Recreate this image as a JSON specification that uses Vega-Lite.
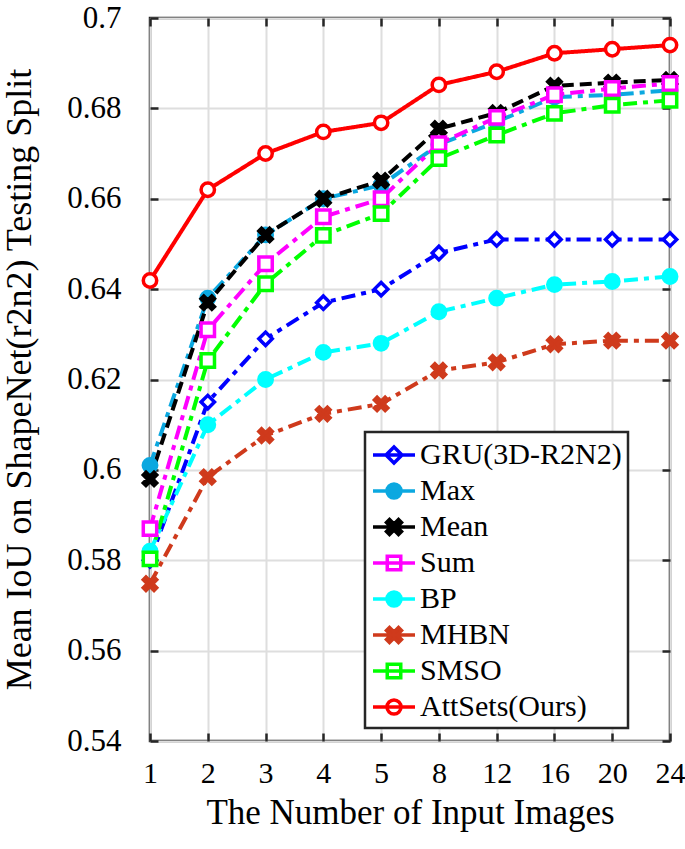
{
  "$schema": "https://vega.github.io/schema/vega-lite/v6.json",
  "autosize": "none",
  "padding": {"left": 150, "top": 18, "right": 15, "bottom": 108},
  "width": 520,
  "height": 723,
  "background": "white",
  "data": {"values": [
    {"n":"1","s":"GRU(3D-R2N2)","v":0.580},{"n":"2","s":"GRU(3D-R2N2)","v":0.615},{"n":"3","s":"GRU(3D-R2N2)","v":0.629},{"n":"4","s":"GRU(3D-R2N2)","v":0.637},{"n":"5","s":"GRU(3D-R2N2)","v":0.640},{"n":"8","s":"GRU(3D-R2N2)","v":0.648},{"n":"12","s":"GRU(3D-R2N2)","v":0.651},{"n":"16","s":"GRU(3D-R2N2)","v":0.651},{"n":"20","s":"GRU(3D-R2N2)","v":0.651},{"n":"24","s":"GRU(3D-R2N2)","v":0.651},
    {"n":"1","s":"Max","v":0.601},{"n":"2","s":"Max","v":0.638},{"n":"3","s":"Max","v":0.652},{"n":"4","s":"Max","v":0.660},{"n":"5","s":"Max","v":0.663},{"n":"8","s":"Max","v":0.672},{"n":"12","s":"Max","v":0.677},{"n":"16","s":"Max","v":0.6825},{"n":"20","s":"Max","v":0.683},{"n":"24","s":"Max","v":0.684},
    {"n":"1","s":"Mean","v":0.598},{"n":"2","s":"Mean","v":0.637},{"n":"3","s":"Mean","v":0.652},{"n":"4","s":"Mean","v":0.660},{"n":"5","s":"Mean","v":0.664},{"n":"8","s":"Mean","v":0.6755},{"n":"12","s":"Mean","v":0.679},{"n":"16","s":"Mean","v":0.685},{"n":"20","s":"Mean","v":0.6857},{"n":"24","s":"Mean","v":0.6863},
    {"n":"1","s":"Sum","v":0.587},{"n":"2","s":"Sum","v":0.631},{"n":"3","s":"Sum","v":0.6456},{"n":"4","s":"Sum","v":0.656},{"n":"5","s":"Sum","v":0.660},{"n":"8","s":"Sum","v":0.6722},{"n":"12","s":"Sum","v":0.678},{"n":"16","s":"Sum","v":0.683},{"n":"20","s":"Sum","v":0.6844},{"n":"24","s":"Sum","v":0.6855},
    {"n":"1","s":"BP","v":0.582},{"n":"2","s":"BP","v":0.610},{"n":"3","s":"BP","v":0.620},{"n":"4","s":"BP","v":0.626},{"n":"5","s":"BP","v":0.628},{"n":"8","s":"BP","v":0.635},{"n":"12","s":"BP","v":0.638},{"n":"16","s":"BP","v":0.641},{"n":"20","s":"BP","v":0.6417},{"n":"24","s":"BP","v":0.6428},
    {"n":"1","s":"MHBN","v":0.5748},{"n":"2","s":"MHBN","v":0.5984},{"n":"3","s":"MHBN","v":0.6076},{"n":"4","s":"MHBN","v":0.6124},{"n":"5","s":"MHBN","v":0.6146},{"n":"8","s":"MHBN","v":0.622},{"n":"12","s":"MHBN","v":0.6238},{"n":"16","s":"MHBN","v":0.6278},{"n":"20","s":"MHBN","v":0.6286},{"n":"24","s":"MHBN","v":0.6286},
    {"n":"1","s":"SMSO","v":0.5803},{"n":"2","s":"SMSO","v":0.6242},{"n":"3","s":"SMSO","v":0.6412},{"n":"4","s":"SMSO","v":0.6519},{"n":"5","s":"SMSO","v":0.6567},{"n":"8","s":"SMSO","v":0.6689},{"n":"12","s":"SMSO","v":0.6741},{"n":"16","s":"SMSO","v":0.6789},{"n":"20","s":"SMSO","v":0.6807},{"n":"24","s":"SMSO","v":0.6818},
    {"n":"1","s":"AttSets(Ours)","v":0.6419},{"n":"2","s":"AttSets(Ours)","v":0.662},{"n":"3","s":"AttSets(Ours)","v":0.670},{"n":"4","s":"AttSets(Ours)","v":0.6748},{"n":"5","s":"AttSets(Ours)","v":0.6768},{"n":"8","s":"AttSets(Ours)","v":0.6852},{"n":"12","s":"AttSets(Ours)","v":0.6881},{"n":"16","s":"AttSets(Ours)","v":0.6922},{"n":"20","s":"AttSets(Ours)","v":0.6931},{"n":"24","s":"AttSets(Ours)","v":0.694}
  ]},
  "resolve": {
    "scale": {"fill": "independent", "stroke": "independent", "shape": "independent"},
    "axis": {"x": "independent", "y": "independent"}
  },
  "layer": [
    {
      "mark": {"type": "line", "strokeWidth": 4},
      "encoding": {
        "x": {"field": "n", "type": "ordinal", "sort": ["1","2","3","4","5","8","12","16","20","24"],
              "scale": {"type": "point", "padding": 0},
              "axis": {"orient": "bottom", "title": "The Number of Input Images", "labelAngle": 0, "grid": true,
                       "labelPadding": 25, "labelDx": -6, "labelFontSize": 30, "titleY": 82, "titleBaseline": "alphabetic", "titleFontSize": 35}},
        "y": {"field": "v", "type": "quantitative",
              "scale": {"domain": [0.54, 0.7], "nice": false, "zero": false},
              "axis": {"orient": "left", "title": "Mean IoU on ShapeNet(r2n2) Testing Split", "grid": true,
                       "values": [0.54,0.56,0.58,0.6,0.62,0.64,0.66,0.68,0.7], "format": "~g",
                       "labelPadding": 37, "titleX": -131, "titleY": 361, "titleAngle": -90,
                       "titleAlign": "center", "titleBaseline": "middle", "titleFontSize": 36}},
        "color": {"field": "s", "type": "nominal", "legend": null,
                  "scale": {"domain": ["GRU(3D-R2N2)","Max","Mean","Sum","BP","MHBN","SMSO","AttSets(Ours)"],
                            "range": ["#0000FF","#0BA8E0","#000000","#FF00FF","#00FFFF","#CF3A1C","#00FF00","#FF0000"]}},
        "strokeDash": {"field": "s", "type": "nominal", "legend": null,
                  "scale": {"domain": ["GRU(3D-R2N2)","Max","Mean","Sum","BP","MHBN","SMSO","AttSets(Ours)"],
                            "range": [[14,6,5,6],[14,6,5,6],[12,6],[14,6,5,6],[14,6,5,6],[14,6,5,6],[14,6,5,6],[1,0]]}}
      }
    },
    {
      "mark": {"type": "point", "strokeWidth": 3.5, "size": 180, "opacity": 1},
      "encoding": {
        "x": {"field": "n", "type": "ordinal", "sort": ["1","2","3","4","5","8","12","16","20","24"],
              "axis": {"orient": "top", "labels": false, "title": null, "grid": false}},
        "y": {"field": "v", "type": "quantitative",
              "axis": {"orient": "right", "labels": false, "title": null, "grid": false,
                       "values": [0.54,0.56,0.58,0.6,0.62,0.64,0.66,0.68,0.7]}},
        "stroke": {"field": "s", "type": "nominal", "legend": null,
                  "scale": {"domain": ["GRU(3D-R2N2)","Max","Mean","Sum","BP","MHBN","SMSO","AttSets(Ours)"],
                            "range": ["#0000FF","#0BA8E0","#000000","#FF00FF","#00FFFF","#CF3A1C","#00FF00","#FF0000"]}},
        "fill": {"field": "s", "type": "nominal", "legend": null,
                  "scale": {"domain": ["GRU(3D-R2N2)","Max","Mean","Sum","BP","MHBN","SMSO","AttSets(Ours)"],
                            "range": ["#FFFFFF","#0BA8E0","#000000","#FFFFFF","#00FFFF","#CF3A1C","#FFFFFF","#FFFFFF"]}},
        "shape": {"field": "s", "type": "nominal", "legend": null,
                  "scale": {"domain": ["GRU(3D-R2N2)","Max","Mean","Sum","BP","MHBN","SMSO","AttSets(Ours)"],
                            "range": ["diamond","circle","M-1,-0.6L-0.6,-1L0,-0.4L0.6,-1L1,-0.6L0.4,0L1,0.6L0.6,1L0,0.4L-0.6,1L-1,0.6L-0.4,0Z","square","circle","M-1,-0.6L-0.6,-1L0,-0.4L0.6,-1L1,-0.6L0.4,0L1,0.6L0.6,1L0,0.4L-0.6,1L-1,0.6L-0.4,0Z","square","circle"]}}
      }
    },
    {
      "transform": [{"filter": "datum.v < 0"}],
      "mark": {"type": "point", "strokeWidth": 3.5, "size": 900, "opacity": 1},
      "encoding": {
        "stroke": {"field": "s", "type": "nominal",
                  "legend": {"orient": "none", "legendX": 215, "legendY": 414, "title": null},
                  "scale": {"domain": ["GRU(3D-R2N2)","Max","Mean","Sum","BP","MHBN","SMSO","AttSets(Ours)"],
                            "range": ["#0000FF","#0BA8E0","#000000","#FF00FF","#00FFFF","#CF3A1C","#00FF00","#FF0000"]}},
        "fill": {"field": "s", "type": "nominal",
                  "legend": {"orient": "none", "legendX": 215, "legendY": 414, "title": null},
                  "scale": {"domain": ["GRU(3D-R2N2)","Max","Mean","Sum","BP","MHBN","SMSO","AttSets(Ours)"],
                            "range": ["#FFFFFF","#0BA8E0","#000000","#FFFFFF","#00FFFF","#CF3A1C","#FFFFFF","#FFFFFF"]}},
        "shape": {"field": "s", "type": "nominal",
                  "legend": {"orient": "none", "legendX": 215, "legendY": 414, "title": null},
                  "scale": {"domain": ["GRU(3D-R2N2)","Max","Mean","Sum","BP","MHBN","SMSO","AttSets(Ours)"],
                            "range": [
                              "M-1,0H1.8M-0.133,0L0.4,-0.533L0.933,0L0.4,0.533Z",
                              "M-1,0H1.8M-0.067,0A0.467,0.467,0,1,1,0.867,0A0.467,0.467,0,1,1,-0.067,0Z",
                              "M-1,0H1.8M-0.1,-0.3L0.1,-0.5L0.4,-0.2L0.7,-0.5L0.9,-0.3L0.6,0L0.9,0.3L0.7,0.5L0.4,0.2L0.1,0.5L-0.1,0.3L0.2,0Z",
                              "M-1,0H1.8M-0.05,-0.45H0.85V0.45H-0.05Z",
                              "M-1,0H1.8M-0.067,0A0.467,0.467,0,1,1,0.867,0A0.467,0.467,0,1,1,-0.067,0Z",
                              "M-1,0H1.8M-0.1,-0.3L0.1,-0.5L0.4,-0.2L0.7,-0.5L0.9,-0.3L0.6,0L0.9,0.3L0.7,0.5L0.4,0.2L0.1,0.5L-0.1,0.3L0.2,0Z",
                              "M-1,0H1.8M-0.05,-0.45H0.85V0.45H-0.05Z",
                              "M-1,0H1.8M-0.067,0A0.467,0.467,0,1,1,0.867,0A0.467,0.467,0,1,1,-0.067,0Z"
                            ]}}
      }
    }
  ],
  "config": {
    "view": {"stroke": "#262626", "strokeWidth": 2.5},
    "font": "Liberation Serif",
    "axis": {
      "labelFont": "Liberation Serif", "labelFontSize": 31, "labelColor": "#000000",
      "titleFont": "Liberation Serif", "titleColor": "#000000", "titleFontWeight": "normal",
      "domain": false, "tickColor": "#262626", "tickWidth": 2.5, "tickSize": -8,
      "gridColor": "#dedede", "gridWidth": 2, "gridOpacity": 1
    },
    "legend": {
      "labelFont": "Liberation Serif", "labelFontSize": 30, "labelColor": "#000000", "labelLimit": 400,
      "symbolSize": 900, "symbolStrokeWidth": 3.5, "strokeColor": "#262626", "strokeWidth": 2.5,
      "fillColor": "#FFFFFF", "padding": 6, "rowPadding": 4, "labelOffset": 15, "cornerRadius": 0
    }
  }
}
